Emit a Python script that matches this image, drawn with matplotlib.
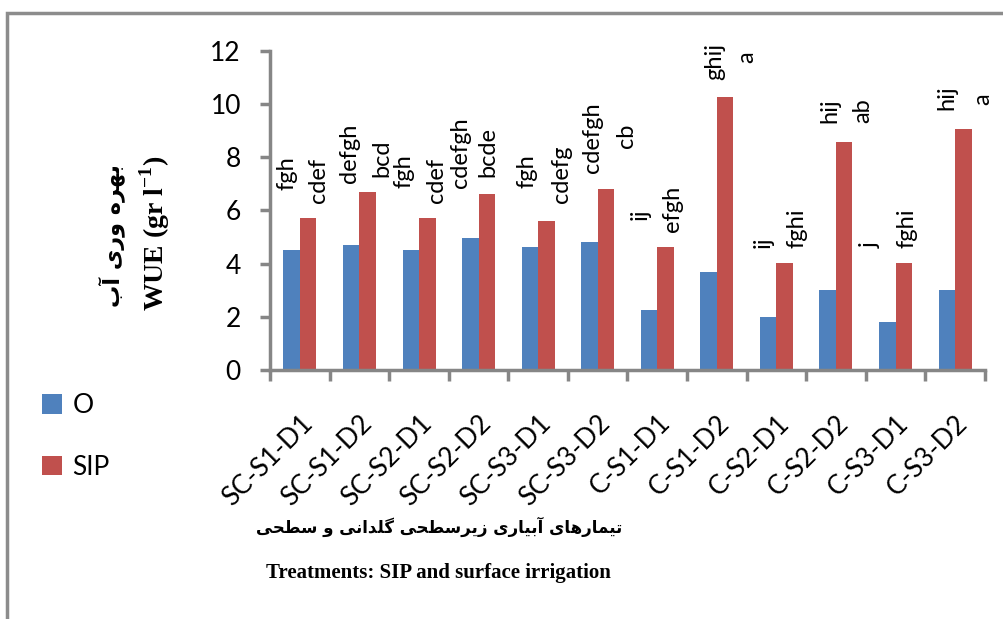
"""WUE of SIP vs surface irrigation treatments, grouped bars with
Duncan letters above each pair."""
import matplotlib
matplotlib.use("Agg")
import matplotlib.pyplot as plt
import numpy as np
from matplotlib.patches import Rectangle

TREATMENTS = ["SC-S1-D1", "SC-S1-D2", "SC-S2-D1", "SC-S2-D2", "SC-S3-D1",
              "SC-S3-D2", "C-S1-D1", "C-S1-D2", "C-S2-D1", "C-S2-D2",
              "C-S3-D1", "C-S3-D2"]
WUE_O = [4.52, 4.69, 4.52, 4.97, 4.61, 4.79, 2.27, 3.69, 2.00, 3.02, 1.80, 3.02]
WUE_SIP = [5.70, 6.70, 5.70, 6.62, 5.61, 6.80, 4.61, 10.26, 4.03, 8.55, 4.03, 9.07]
LETTERS_O = ["fgh", "defgh", "fgh", "cdefgh", "fgh", "cdefgh",
             "ij", "ghij", "ij", "hij", "j", "hij"]
LETTERS_SIP = ["cdef", "bcd", "cdef", "bcde", "cdefg", "cb",
               "efgh", "a", "fghi", "ab", "fghi", "a"]

# where the (hand-placed) letter labels sit: x offset from group centre,
# bottom of the label in data units
O_DX = [-0.22, -0.16, -0.26, -0.31, -0.19, -0.08, -0.29, -0.03, -0.23, -0.10, -0.43, -0.14]
SIP_DX = [0.31, 0.37, 0.30, 0.16, 0.40, 0.49, 0.26, 0.50, 0.34, 0.45, 0.19, 0.46]
O_Y = [6.77, 7.03, 6.84, 6.84, 6.84, 7.41, 5.64, 10.9, 4.6, 9.27, 4.6, 9.77]
SIP_Y = [6.28, 7.26, 6.28, 7.26, 6.28, 8.35, 5.19, 11.54, 4.6, 9.27, 4.6, 9.96]

BLUE = "#4F81BD"
RED = "#C0504D"
GREY = "#868686"

# Persian texts, written with presentation forms in logical order and
# flipped to visual order (matplotlib does no bidi / shaping)
FA_YLABEL = "\uFE91\uFEEC\uFEAE\uFEE9 \uFEED\uFEAD\uFEEF \uFE81\uFE8F"[::-1]
FA_XLABEL = ("\uFE97\uFEF4\uFEE4\uFE8E\uFEAD\uFEEB\uFE8E\uFEEF "
             "\uFE81\uFE91\uFEF4\uFE8E\uFEAD\uFEEF "
             "\uFEAF\uFEF3\uFEAE\uFEB3\uFEC4\uFEA4\uFEF0 "
             "\uFB94\uFEE0\uFEAA\uFE8D\uFEE7\uFEF0 "
             "\uFEED "
             "\uFEB3\uFEC4\uFEA4\uFEF0")[::-1]

plt.rcParams["font.family"] = ["Lato", "DejaVu Sans"]
plt.rcParams["mathtext.fontset"] = "custom"
plt.rcParams["mathtext.rm"] = "Liberation Serif"
plt.rcParams["mathtext.bf"] = "Liberation Serif:bold"

fig = plt.figure(figsize=(10.04, 6.19), dpi=100)
ax = fig.add_axes([0.269, 0.4023, 0.712, 0.516])

x = np.arange(len(TREATMENTS))
w = 0.277
ax.bar(x - w / 2, WUE_O, w, color=BLUE, label="O")
ax.bar(x + w / 2, WUE_SIP, w, color=RED, label="SIP")

for i in range(len(TREATMENTS)):
    ax.text(i + O_DX[i], O_Y[i], LETTERS_O[i], rotation=90, ha="center",
            va="bottom", fontsize=17, color="black")
    ax.text(i + SIP_DX[i], SIP_Y[i], LETTERS_SIP[i], rotation=90, ha="center",
            va="bottom", fontsize=17, color="black")

ax.set_xlim(-0.5, len(TREATMENTS) - 0.5)
ax.set_ylim(0, 12)
ax.set_yticks(range(0, 13, 2))
ax.set_xticks(x)
ax.set_xticklabels(TREATMENTS, rotation=45, ha="right", va="top",
                   rotation_mode="anchor")
ax.set_xticks(np.arange(-0.5, len(TREATMENTS)), minor=True)

for side in ("top", "right"):
    ax.spines[side].set_visible(False)
for side in ("left", "bottom"):
    ax.spines[side].set_color(GREY)
    ax.spines[side].set_linewidth(2.5)

ax.tick_params(axis="y", direction="out", length=7, width=2.5, color=GREY,
               labelsize=19, pad=14)
ax.tick_params(axis="x", which="major", length=0, labelsize=19, pad=29)
ax.tick_params(axis="x", which="minor", direction="out", length=8,
               width=2.5, color=GREY)

fig.text(0.1116, 0.620, FA_YLABEL, rotation=90, ha="center", va="center",
         fontsize=16, fontweight="bold", family=["DejaVu Sans"])
fig.text(0.154, 0.6236, r"WUE (gr l$^{\mathbf{-1}}$)", rotation=90,
         ha="center", va="center", fontsize=20, fontweight="bold",
         family=["Liberation Serif"])
fig.text(0.437, 0.149, FA_XLABEL, ha="center", va="center", fontsize=12,
         fontweight="bold", family=["DejaVu Sans"])
fig.text(0.437, 0.0743, "Treatments: SIP and surface irrigation",
         ha="center", va="center", fontsize=15, fontweight="bold",
         family=["Liberation Serif"])

fig.legend(loc="upper left", bbox_to_anchor=(0.042, 0.365), frameon=False,
           fontsize=19, handlelength=0.75, handleheight=0.75,
           handletextpad=0.4, labelspacing=1.4, borderpad=0,
           borderaxespad=0)

# grey frame of the pasted chart (left and top edges only are visible)
fig.add_artist(Rectangle((0.0065, -0.5), 2.0, 0.9798 + 0.5, fill=False,
                         edgecolor="#8c8c8c", linewidth=2.5,
                         transform=fig.transFigure, clip_on=False))

fig.savefig("out.png", dpi=100)
